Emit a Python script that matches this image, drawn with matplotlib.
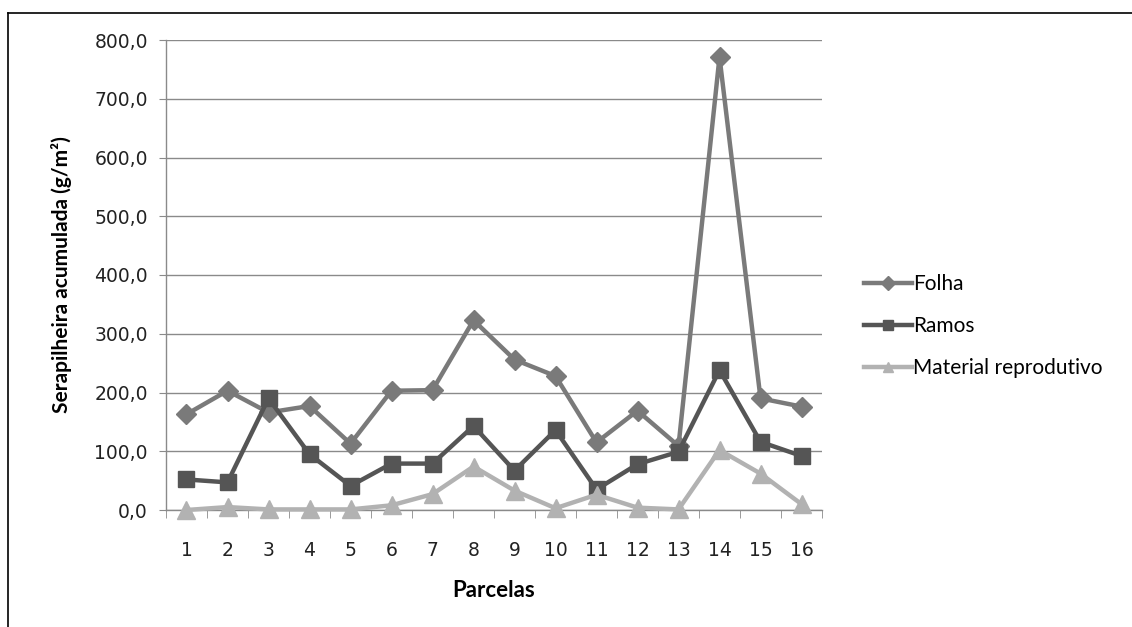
#!/usr/bin/env python3
"""
Serapilheira acumulada por parcela (Folha, Ramos, Material reprodutivo).
"""
import numpy as np
import matplotlib
matplotlib.use('Agg')
import matplotlib.pyplot as plt
from matplotlib.lines import Line2D
from matplotlib.ticker import FuncFormatter

# Data
parcelas = list(range(1, 17))
folha = [163, 203, 166, 177, 113, 203, 204, 323, 256, 228,
         115, 169, 109, 771, 190, 176]
ramos = [52, 47, 190, 95, 41, 79, 79, 143, 67, 136,
         35, 78, 99, 238, 116, 92]
material = [0, 5, 1, 1, 1, 8, 27, 74, 33, 3,
            26, 4, 1, 102, 62, 10]
series_names = ['Folha', 'Ramos', 'Material reprodutivo']
y_ticks = [0, 100, 200, 300, 400, 500, 600, 700, 800]

label_font = ['Lato', 'DejaVu Sans']

fig = plt.figure(figsize=(11.32, 6.27), dpi=100)
ax = fig.add_axes([166 / 1132, 1 - 510 / 627, 656 / 1132, 470 / 627])

x = np.array(parcelas)
styles = [
    dict(color='#7a7a7a', marker='D', markersize=10.5),
    dict(color='#555555', marker='s', markersize=12),
    dict(color='#b2b2b2', marker='^', markersize=12.5),
]
for vals, name, st in zip((folha, ramos, material), series_names, styles):
    ax.plot(x, vals, lw=3.2, label=name, zorder=3, clip_on=False, **st)

# Axes and grid
ax.set_xlim(0.5, 16.5)
ax.set_ylim(0, 800)
ax.set_yticks(y_ticks)
ax.yaxis.set_major_formatter(
    FuncFormatter(lambda v, p: f'{v:.1f}'.replace('.', ',')))
ax.grid(axis='y', color='#8a8a8a', lw=1)
ax.set_axisbelow(True)

ax.set_xticks(x)
ax.set_xticklabels([str(p) for p in parcelas])
ax.set_xticks(np.arange(0.5, 17, 1), minor=True)
ax.tick_params(axis='x', which='major', length=0, pad=22,
               labelsize=13.5, labelcolor='#222222')
ax.tick_params(axis='x', which='minor', length=6, color='#8a8a8a',
               direction='out')
ax.tick_params(axis='y', length=5, color='#8a8a8a', pad=8,
               labelsize=13.5, labelcolor='#222222')

for side in ('top', 'right'):
    ax.spines[side].set_visible(False)
for side in ('left', 'bottom'):
    ax.spines[side].set_color('#8a8a8a')
    ax.spines[side].set_linewidth(1)

ax.set_ylabel('Serapilheira acumulada (g/m²)', family=label_font,
              fontweight='bold', fontsize=15, labelpad=16)
ax.set_xlabel('Parcelas', family=label_font, fontweight='bold',
              fontsize=16, labelpad=15)

leg = ax.legend(loc='center left', bbox_to_anchor=(1.035, 0.391),
                frameon=False, handlelength=2.3, handletextpad=0.05,
                labelspacing=1.05, prop=dict(family=label_font, size=15))
for h in leg.legend_handles:
    h.set_markersize(7.5)

# Outer frame (only top and left show in the reference)
fig.add_artist(Line2D([8 / 1132, 1], [1 - 13 / 627, 1 - 13 / 627],
                      color='black', lw=1.2, transform=fig.transFigure))
fig.add_artist(Line2D([8 / 1132, 8 / 1132], [0, 1 - 13 / 627],
                      color='black', lw=1.2, transform=fig.transFigure))

fig.savefig('out.png', dpi=100)
